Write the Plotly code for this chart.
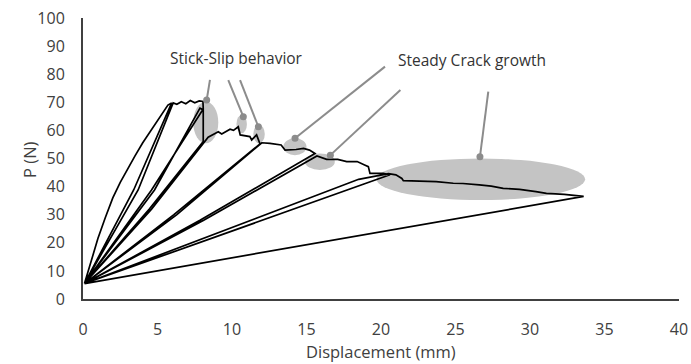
import plotly.graph_objects as go

# ---------------- data ----------------
# initial loading curve up to first peak
load1_x = [0.1, 0.5, 1.0, 1.5, 2.0, 2.5, 3.0, 3.5, 4.0, 4.5, 5.0, 5.4, 5.7, 5.95]
load1_y = [5.5, 13.0, 21.5, 29.0, 36.0, 41.5, 46.5, 51.0, 55.5, 59.5, 63.5, 67.0, 69.0, 69.8]
# unload / reload to first peak
cyc1_x = [3.4, 0.1, 3.7, 6.05]
cyc1_y = [38.8, 5.5, 38.8, 69.8]
# stick-slip plateau
plat_x = [6.3, 6.6, 6.9, 7.2, 7.5, 7.8, 8.05, 8.07]
plat_y = [69.3, 70.2, 69.5, 70.6, 69.8, 70.5, 70.3, 67.6]
cyc2_x = [4.6, 0.1, 4.8, 7.85, 8.07, 8.07]
cyc2_y = [38.8, 5.5, 38.8, 67.9, 67.3, 56.0]
cyc3_x = [4.45, 0.1, 4.6, 8.4]
cyc3_y = [32.0, 5.5, 32.0, 57.6]
# stick-slip envelope
env2_x = [9.08, 9.31, 9.87, 10.1, 10.42, 10.55, 11.2, 11.32, 11.5, 11.65, 11.88]
env2_y = [59.5, 58.7, 60.4, 60.0, 61.3, 58.4, 57.8, 56.6, 57.5, 58.4, 55.2]
cyc4_x = [6.1, 0.1, 6.3, 12.0]
cyc4_y = [30.0, 5.5, 30.0, 55.6]
env3_x = [12.55, 13.3, 13.56, 14.3, 14.8, 15.2, 15.57]
env3_y = [55.4, 54.8, 53.0, 53.2, 53.6, 53.0, 51.8]
cyc5_x = [7.85, 0.1, 8.1, 15.7]
cyc5_y = [28.0, 5.5, 28.0, 50.9]
env4_x = [16.35, 17.1, 17.7, 18.4, 18.9, 19.15, 19.26, 20.15, 20.6]
env4_y = [49.7, 49.7, 48.9, 48.9, 47.7, 47.1, 44.7, 44.7, 44.2]
cyc6_x = [0.1, 18.5, 20.5]
cyc6_y = [5.5, 42.6, 44.6]
# steady crack growth
env5_x = [21.0, 21.4, 21.5, 22.5, 23.7, 24.85, 25.5, 26.6, 27.4, 28.2, 29.3, 30.4, 31.1, 32.3, 33.6, 0.1]
env5_y = [44.2, 42.9, 42.1, 42.0, 41.8, 41.2, 41.1, 40.6, 40.2, 39.4, 39.0, 38.2, 37.6, 37.2, 36.5, 5.5]

disp_mm = (load1_x + cyc1_x + plat_x + cyc2_x + cyc3_x + env2_x + cyc4_x
           + env3_x + cyc5_x + env4_x + cyc6_x + env5_x)
load_N = (load1_y + cyc1_y + plat_y + cyc2_y + cyc3_y + env2_y + cyc4_y
          + env3_y + cyc5_y + env4_y + cyc6_y + env5_y)

x_ticks = [0, 5, 10, 15, 20, 25, 30, 35, 40]
y_ticks = [0, 10, 20, 30, 40, 50, 60, 70, 80, 90, 100]

# highlighted regions (x0, x1, y0, y1) and their callouts (dot, line top)
regions = [
    (7.4, 9.08, 55.4, 70.2),
    (10.3, 11.0, 59.0, 65.5),
    (11.43, 12.2, 55.4, 62.0),
    (13.45, 15.0, 51.2, 57.2),
    (14.9, 16.9, 45.9, 51.8),
    (19.7, 33.7, 35.2, 50.0),
]
callout_dot_x = [8.3, 10.76, 11.77, 14.23, 16.6, 26.64]
callout_dot_y = [70.8, 64.9, 61.3, 57.2, 51.2, 50.6]
callout_top_x = [8.52, 9.75, 10.54, 20.27, 21.3, 27.2]
callout_top_y = [78.0, 77.9, 77.9, 82.7, 74.4, 73.8]

labels = ["Stick-Slip behavior", "Steady Crack growth"]
label_x = [10.32, 26.1]
label_y = [85.6, 85.1]

# ---------------- figure ----------------
FONT = "Open Sans"
TXT = "#404040"
fig = go.Figure()

shapes = []
for (x0, x1, y0, y1) in regions:
    shapes.append(dict(type="circle", xref="x", yref="y", x0=x0, x1=x1, y0=y0, y1=y1,
                       fillcolor="#c4c4c4", line=dict(width=0), layer="below"))
for xd, yd, xt, yt in zip(callout_dot_x, callout_dot_y, callout_top_x, callout_top_y):
    shapes.append(dict(type="line", xref="x", yref="y", x0=xt, y0=yt, x1=xd, y1=yd,
                       line=dict(color="#8c8c8c", width=2), layer="above"))

fig.add_trace(go.Scatter(x=disp_mm, y=load_N, mode="lines",
                         line=dict(color="black", width=1.7), hoverinfo="skip",
                         showlegend=False))
fig.add_trace(go.Scatter(x=callout_dot_x, y=callout_dot_y, mode="markers",
                         marker=dict(color="#8c8c8c", size=7), hoverinfo="skip",
                         showlegend=False))

for t, x, y in zip(labels, label_x, label_y):
    fig.add_annotation(x=x, y=y, xref="x", yref="y", text=t, showarrow=False,
                       font=dict(family=FONT, size=15.5, color="#333333"))

# axis titles
fig.add_annotation(x=0.5, y=-0.1886, xref="paper", yref="paper", text="Displacement (mm)",
                   showarrow=False, xanchor="center", yanchor="middle",
                   font=dict(family=FONT, size=16.5, color=TXT))
fig.add_annotation(x=-0.0889, y=0.495, xref="paper", yref="paper", text="P (N)",
                   showarrow=False, xanchor="center", yanchor="middle", textangle=-90,
                   font=dict(family=FONT, size=16.5, color=TXT))

fig.update_layout(
    width=691, height=364,
    margin=dict(l=83, r=12, t=18, b=65),
    paper_bgcolor="white", plot_bgcolor="white",
    shapes=shapes,
    showlegend=False,
    xaxis=dict(range=[0, 40], tickvals=x_ticks, showgrid=False, zeroline=False,
               showline=True, linecolor="#404040", linewidth=2, ticks="",
               automargin=False,
               tickfont=dict(family=FONT, size=16, color=TXT),
               ticklabelstandoff=15),
    yaxis=dict(range=[0, 100], tickvals=y_ticks, showgrid=False, zeroline=False,
               showline=True, linecolor="#404040", linewidth=2, ticks="",
               automargin=False,
               tickfont=dict(family=FONT, size=16, color=TXT),
               ticklabelstandoff=13),
)

# remove the default page margin so the figure fills the window exactly
fig.write_html("out.html", config={"displayModeBar": False},
               post_script="document.body.style.margin='0';")
